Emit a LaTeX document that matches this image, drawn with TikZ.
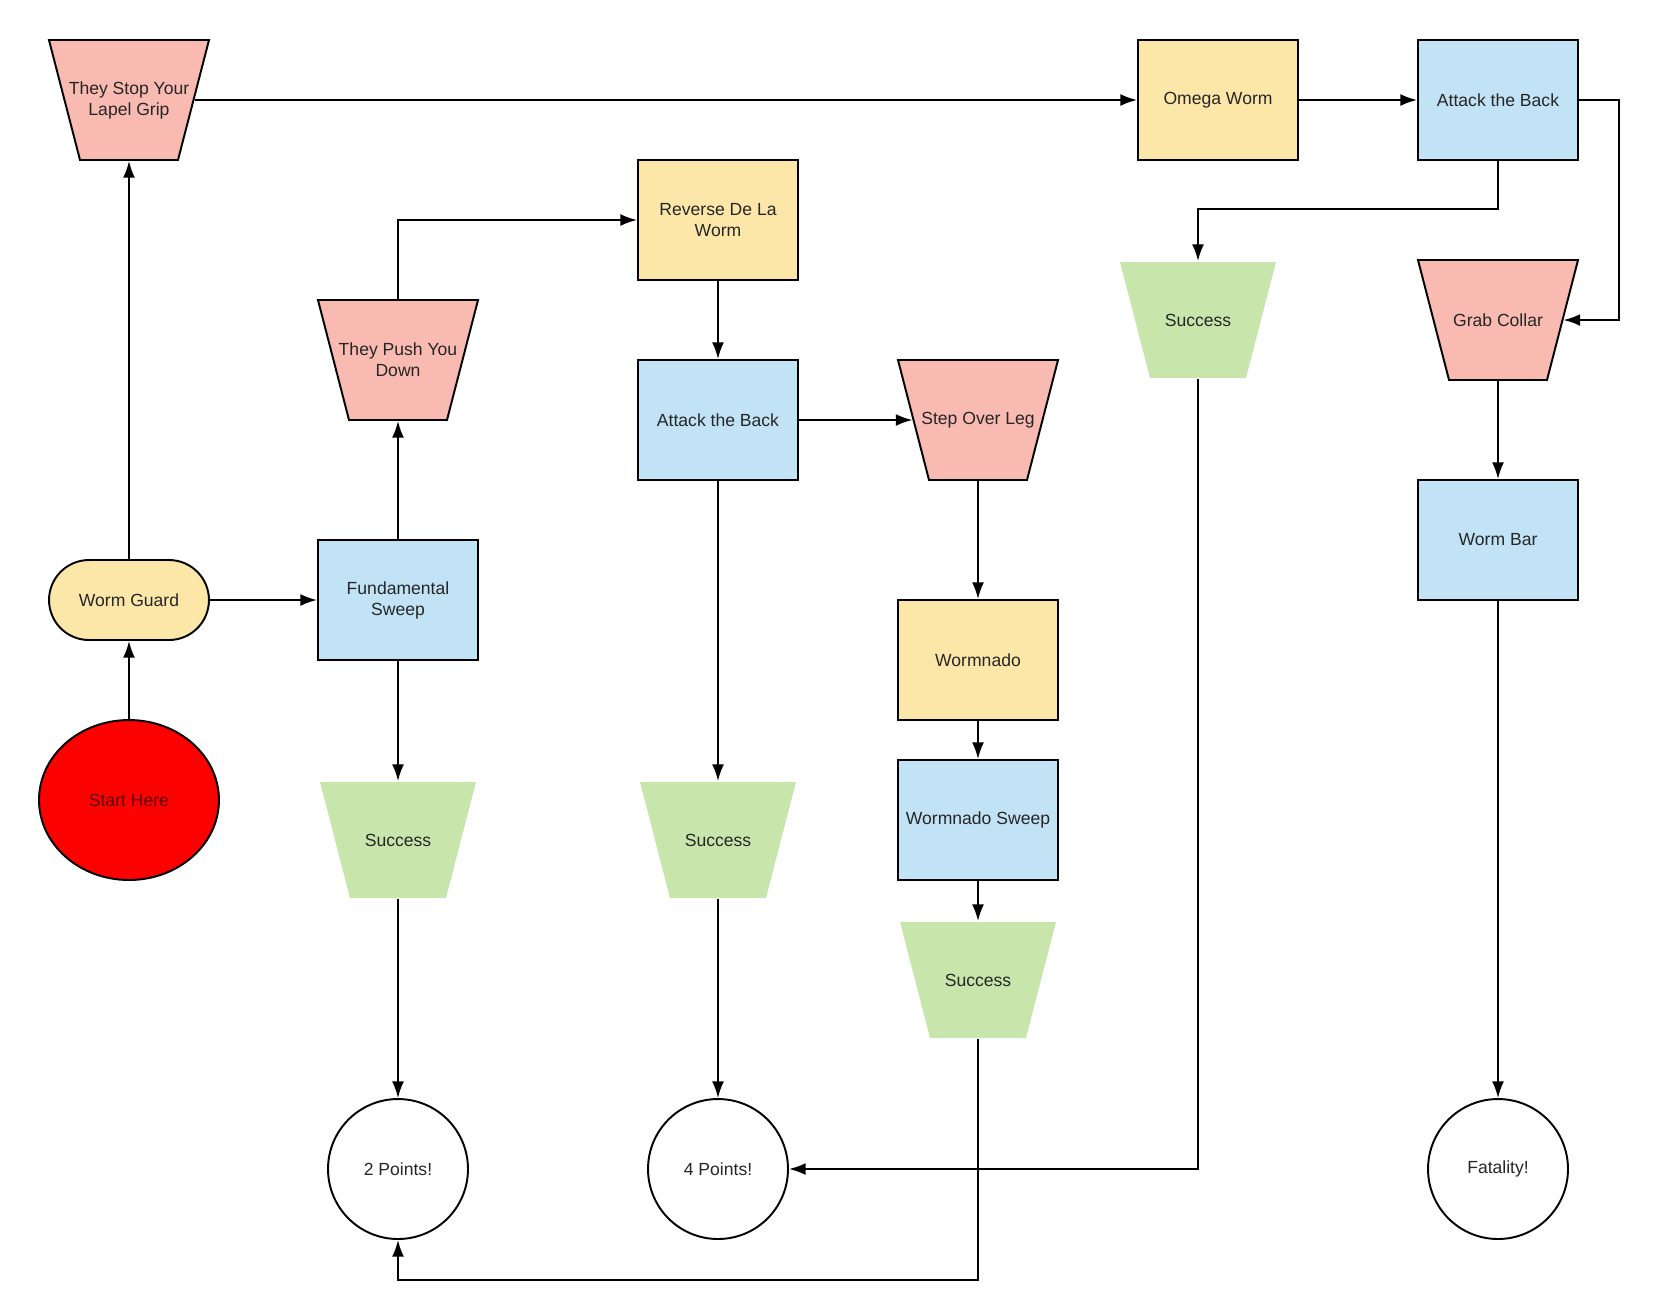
\documentclass[tikz,border=0pt]{standalone}
\usepackage{fontspec}
\setmainfont{Liberation Sans}
\usetikzlibrary{arrows.meta,shapes.geometric}

\definecolor{pinkfill}{RGB}{248,186,177}
\definecolor{yellowfill}{RGB}{252,231,169}
\definecolor{bluefill}{RGB}{193,227,245}
\definecolor{greenfill}{RGB}{200,230,171}
\definecolor{startred}{RGB}{253,0,0}
\definecolor{starttext}{RGB}{90,0,0}

\begin{document}
\begin{tikzpicture}[x=0.02cm,y=-0.02cm,line width=1.1pt,>={Latex[length=9.5pt,width=6.8pt]},
  every node/.style={font=\fontsize{10}{12}\selectfont,text=black!85,align=center},
  box/.style={draw,rectangle,minimum width=3.2cm,minimum height=2.4cm},
  movebox/.style={box,fill=yellowfill},
  backbox/.style={box,fill=bluefill},
  trap/.style={trapezium,shape border rotate=180,trapezium angle=75.5,inner xsep=0.98cm,inner ysep=1.2cm},
  reacttrap/.style={trap,draw,fill=pinkfill},
  wintrap/.style={trap,fill=greenfill,inner xsep=0.96cm,inner ysep=1.16cm,label={center:Success}},
  result/.style={circle,draw,minimum size=2.8cm}]
  \useasboundingbox (0,0) rectangle (1659,1303);
  % first column
  \node[reacttrap,label={center:They Stop Your\\Lapel Grip}] (lapel) at (129,100) {};
  \node[draw,rounded corners=0.8cm,minimum width=3.2cm,minimum height=1.6cm,fill=yellowfill] (guard) at (129,600) {Worm Guard};
  \node[ellipse,draw,fill=startred,minimum width=3.6cm,minimum height=3.2cm,text=starttext] (start) at (129,800) {Start Here};
  % second column
  \node[reacttrap,label={center:They Push You\\Down}] (pushdown) at (398,360) {};
  \node[backbox] (sweep) at (398,600) {Fundamental\\Sweep};
  \node[wintrap] (winsweep) at (398,840) {};
  \node[result] (two) at (398,1169) {2 Points!};
  % third column
  \node[movebox] (reverse) at (718,220) {Reverse De La\\Worm};
  \node[backbox] (backmid) at (718,420) {Attack the Back};
  \node[wintrap] (winback) at (718,840) {};
  \node[result] (four) at (718,1169) {4 Points!};
  % fourth column
  \node[reacttrap,label={center:Step Over Leg}] (stepover) at (978,420) {};
  \node[movebox] (wormnado) at (978,660) {Wormnado};
  \node[backbox] (nadosweep) at (978,820) {Wormnado Sweep};
  \node[wintrap] (winnado) at (978,980) {};
  % right side
  \node[movebox] (omega) at (1218,100) {Omega Worm};
  \node[wintrap] (wintop) at (1198,320) {};
  \node[backbox] (backtop) at (1498,100) {Attack the Back};
  \node[reacttrap,label={center:Grab Collar}] (collar) at (1498,320) {};
  \node[backbox] (wormbar) at (1498,540) {Worm Bar};
  \node[result] (fatality) at (1498,1169) {Fatality!};
  \coordinate (bend1) at (1498,209);
  \coordinate (bend2) at (1619,100);
  \coordinate (bend3) at (978,1280);
  % connectors
  \draw[->] (start.north) -- (guard.south);
  \draw[->] (guard.north) -- (lapel.south);
  \draw[->] (guard.east) -- (sweep.west);
  \draw[->] (sweep.north) -- (pushdown.south);
  \draw[->] (sweep.south) -- (winsweep.north);
  \draw[->] (pushdown.north) |- (reverse.west);
  \draw[->] (lapel.east) -- (omega.west);
  \draw[->] (omega.east) -- (backtop.west);
  \draw[->] (backtop.south) -- (bend1) -| (wintop.north);
  \draw[->] (backtop.east) -- (bend2) |- (collar.east);
  \draw[->] (collar.south) -- (wormbar.north);
  \draw[->] (wormbar.south) -- (fatality.north);
  \draw[->] (reverse.south) -- (backmid.north);
  \draw[->] (backmid.east) -- (stepover.west);
  \draw[->] (backmid.south) -- (winback.north);
  \draw[->] (stepover.south) -- (wormnado.north);
  \draw[->] (wormnado.south) -- (nadosweep.north);
  \draw[->] (nadosweep.south) -- (winnado.north);
  \draw[->] (winsweep.south) -- (two.north);
  \draw[->] (winback.south) -- (four.north);
  \draw[->] (winnado.south) -- (bend3) -| (two.south);
  \draw[->] (wintop.south) |- (four.east);
\end{tikzpicture}
\end{document}
